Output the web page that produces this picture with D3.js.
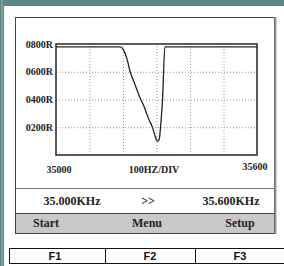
<!DOCTYPE html>
<html>
<head>
<meta charset="utf-8">
<script src="https://cdn.jsdelivr.net/npm/d3@7"></script>
<style>
  html, body { margin: 0; padding: 0; background: #5e8585; }
  svg { display: block; }
  .ylab text, .xlab { font-family: "Liberation Serif", "Times New Roman", serif; font-weight: bold; font-size: 10px; fill: #222; }
  .row { font-family: "Liberation Serif", "Times New Roman", serif; font-weight: bold; font-size: 12px; fill: #222; }
  .fkey { font-family: "Liberation Sans", Arial, sans-serif; font-weight: bold; font-size: 11px; fill: #111; }
  .grid line { stroke: #999; stroke-dasharray: 1,2; }
  .grid path { display: none; }
</style>
</head>
<body>
<svg id="chart"></svg>
<script>
// sweep readout (Hz vs R)
var freqs  = [35000, 35191, 35201, 35211, 35221, 35236, 35251, 35261, 35276, 35289, 35296, 35301, 35305, 35309, 35313, 35318, 35325, 35600];
var values = [780,   780,   760,   700,   604,   507,   411,   360,   264,   192,   135,   106,   100,   125,   230,   400,   780,   780];

var yTicks = [200, 400, 600, 800];
var yTickLabels = ["0200R", "0400R", "0600R", "0800R"];
var xGridTicks = [35100, 35200, 35300, 35400, 35500];
var xEnds = [35000, 35600];
var divLabel = "100HZ/DIV";
var rowLabels = ["35.000KHz", ">>", "35.600KHz"];
var menuLabels = ["Start", "Menu", "Setup"];
var fKeys = ["F1", "F2", "F3"];

var width = 284, height = 266;
var plot = {left: 56, right: 257, top: 44, bottom: 155};

var svg = d3.select("#chart").attr("width", width).attr("height", height);

// outer panel
svg.append("rect").attr("x", 0).attr("y", 0).attr("width", width).attr("height", height).attr("fill", "#5e8585");
svg.append("rect").attr("x", 1).attr("y", 0).attr("width", 2).attr("height", height).attr("fill", "#7a9d9d");
svg.append("rect").attr("x", 4).attr("y", 6).attr("width", width - 4).attr("height", height - 6).attr("fill", "#fff");

// device frame
svg.append("rect").attr("x", 15.5).attr("y", 17.5).attr("width", 259).attr("height", 216)
  .attr("fill", "#fff").attr("stroke", "#444").attr("stroke-width", 1);
svg.append("line").attr("x1", 275.5).attr("x2", 275.5).attr("y1", 17).attr("y2", 234)
  .attr("stroke", "#999").attr("stroke-width", 2);

var xScale = d3.scaleLinear().domain([35000, 35600]).range([plot.left, plot.right]);
var yScale = d3.scaleLinear().domain([0, 800]).range([plot.bottom, plot.top]);

// grid
svg.append("g").attr("class", "grid")
  .attr("transform", "translate(0," + plot.bottom + ")")
  .call(d3.axisBottom(xScale).tickValues(xGridTicks).tickSize(-(plot.bottom - plot.top)).tickFormat(""));
svg.append("g").attr("class", "grid")
  .attr("transform", "translate(" + plot.left + ",0)")
  .call(d3.axisLeft(yScale).tickValues(yTicks.slice(0, 3)).tickSize(-(plot.right - plot.left)).tickFormat(""));

// y labels
var ylab = svg.append("g").attr("class", "ylab")
  .attr("transform", "translate(" + (plot.left - 1) + ",0)")
  .call(d3.axisLeft(yScale).tickValues(yTicks).tickSize(0).tickPadding(2)
    .tickFormat(function(d, i){ return yTickLabels[i]; }));
ylab.select(".domain").remove();

// curve
var line = d3.line()
  .x(function(d, i){ return xScale(freqs[i]); })
  .y(function(d){ return yScale(d); })
  .curve(d3.curveMonotoneX);
svg.append("path").datum(values)
  .attr("d", line)
  .attr("fill", "none").attr("stroke", "#222").attr("stroke-width", 1.3);

// plot border
svg.append("rect").attr("x", plot.left).attr("y", plot.top)
  .attr("width", plot.right - plot.left).attr("height", plot.bottom - plot.top)
  .attr("fill", "none").attr("stroke", "#333").attr("stroke-width", 1.6);

// x labels
svg.append("text").attr("class", "xlab").attr("x", xScale(xEnds[0]) + 3).attr("y", 173)
  .attr("text-anchor", "middle").text(String(xEnds[0]));
svg.append("text").attr("class", "xlab").attr("x", xScale(xEnds[1]) - 2).attr("y", 170)
  .attr("text-anchor", "middle").text(String(xEnds[1]));
svg.append("text").attr("class", "xlab").attr("x", 154).attr("y", 173)
  .attr("text-anchor", "middle").text(divLabel);

// readout row
svg.append("line").attr("x1", 16).attr("x2", 275).attr("y1", 188.5).attr("y2", 188.5).attr("stroke", "#777");
var rowX = [72, 148, 231];
svg.selectAll(".row").data(rowLabels).enter().append("text")
  .attr("class", "row")
  .attr("x", function(d, i){ return rowX[i]; })
  .attr("y", 205)
  .attr("text-anchor", "middle")
  .text(function(d){ return d; });

// menu band
svg.append("rect").attr("x", 16).attr("y", 213).attr("width", 258).attr("height", 20)
  .attr("fill", "#c8c8c8");
svg.append("line").attr("x1", 16).attr("x2", 275).attr("y1", 213.5).attr("y2", 213.5).attr("stroke", "#444");
var menuX = [46, 147, 240];
svg.selectAll(".menu").data(menuLabels).enter().append("text")
  .attr("class", "row menu")
  .attr("x", function(d, i){ return menuX[i]; })
  .attr("y", 227)
  .attr("text-anchor", "middle")
  .text(function(d){ return d; });

// function keys
var fEdges = [9, 105, 195, 286];
var fk = svg.append("g");
fk.selectAll("rect").data(fKeys).enter().append("rect")
  .attr("x", function(d, i){ return fEdges[i] + 0.5; })
  .attr("y", 248.5)
  .attr("width", function(d, i){ return fEdges[i + 1] - fEdges[i]; })
  .attr("height", 15)
  .attr("fill", "#fff").attr("stroke", "#111").attr("stroke-width", 1);
fk.selectAll("text").data(fKeys).enter().append("text")
  .attr("class", "fkey")
  .attr("x", function(d, i){ return [55, 150, 240][i]; })
  .attr("y", 260)
  .attr("text-anchor", "middle")
  .text(function(d){ return d; });
</script>
</body>
</html>
